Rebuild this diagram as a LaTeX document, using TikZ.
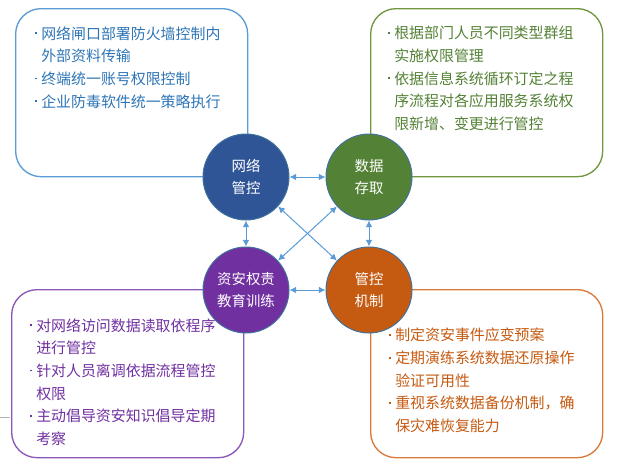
\documentclass[tikz,border=0pt]{standalone}
\usepackage{fontspec}
\setmainfont{Noto Sans CJK SC}
\usepackage{xcolor}
\definecolor{colorNet}{HTML}{2F5597}
\definecolor{colorData}{HTML}{538135}
\definecolor{colorEdu}{HTML}{7030A0}
\definecolor{colorCtrl}{HTML}{C55A11}
\definecolor{colorNetLine}{HTML}{5B9BD5}
\definecolor{colorDataLine}{HTML}{70963F}
\definecolor{colorEduLine}{HTML}{8A56B8}
\definecolor{colorCtrlLine}{HTML}{D9793A}
\definecolor{colorNetText}{HTML}{2E75B6}
\definecolor{colorRim}{HTML}{41719C}
\definecolor{colorLink}{HTML}{5B9BD5}
\usepackage{tikz}
\usetikzlibrary{arrows, arrows.meta, positioning}
\newcommand{\itm}{\makebox[4.5pt][l]{\raisebox{0.33em}{\rule{1.4pt}{1.4pt}}}}
\newcommand{\ind}{\hspace*{4.5pt}}
\tikzset{
  circ/.style={circle, draw=colorRim, line width=0.75pt, minimum size=64.5pt, inner sep=0pt, text=white, align=center, font=\fontsize{10.8}{16.5}\selectfont},
  box/.style={draw, line width=1pt, rounded corners=19pt, minimum width=174pt, minimum height=126pt, anchor=north west},
  txt/.style={anchor=north west, inner sep=0pt, align=left, font=\fontsize{11.2}{17}\selectfont},
}

\begin{document}
\begin{tikzpicture}[>={Latex[length=5pt,width=5pt]}, x=0.75pt, y=-0.75pt]
\useasboundingbox (0,0) rectangle (640,472);
\node[box, draw=colorNetLine] (netbox) at (15,8) {};
\node[box, draw=colorDataLine] (databox) at (370,8) {};
\node[box, draw=colorEduLine] (edubox) at (11,289) {};
\node[box, draw=colorCtrlLine] (ctrlbox) at (370,289) {};
\draw[gray!60] (0,417) -- (10,417);
\node[txt, text=colorNetText] (nettext) at (35,26) {\itm 网络闸口部署防火墙控制内\\\ind 外部资料传输\\\itm 终端统一账号权限控制\\\itm 企业防毒软件统一策略执行};
\node[txt, text=colorData] (datatext) at (388,26) {\itm 根据部门人员不同类型群组\\\ind 实施权限管理\\\itm 依据信息系统循环订定之程\\\ind 序流程对各应用服务系统权\\\ind 限新增、变更进行管控};
\node[txt, text=colorEdu] (edutext) at (30,318) {\itm 对网络访问数据读取依程序\\\ind 进行管控\\\itm 针对人员离调依据流程管控\\\ind 权限\\\itm 主动倡导资安知识倡导定期\\\ind 考察};
\node[txt, text=colorCtrl] (ctrltext) at (389,328) {\itm 制定资安事件应变预案\\\itm 定期演练系统数据还原操作\\\ind 验证可用性\\\itm 重视系统数据备份机制，确\\\ind 保灾难恢复能力};
\node[circ, fill=colorNet] (net) at (246,177) {网络\\管控};
\node[circ, fill=colorData, right of=net, node distance=92.25pt] (data) {数据\\存取};
\node[circ, fill=colorEdu, below of=net, node distance=84.75pt] (edu) {资安权责\\教育训练};
\node[circ, fill=colorCtrl, right of=edu, node distance=92.25pt] (ctrl) {管控\\机制};
\draw [<->, colorLink, line width=0.75pt] (net) edge (data) (edu) edge (ctrl) (net) edge (edu) (data) edge (ctrl) (net) edge (ctrl) (data) edge (edu);
\end{tikzpicture}
\end{document}
